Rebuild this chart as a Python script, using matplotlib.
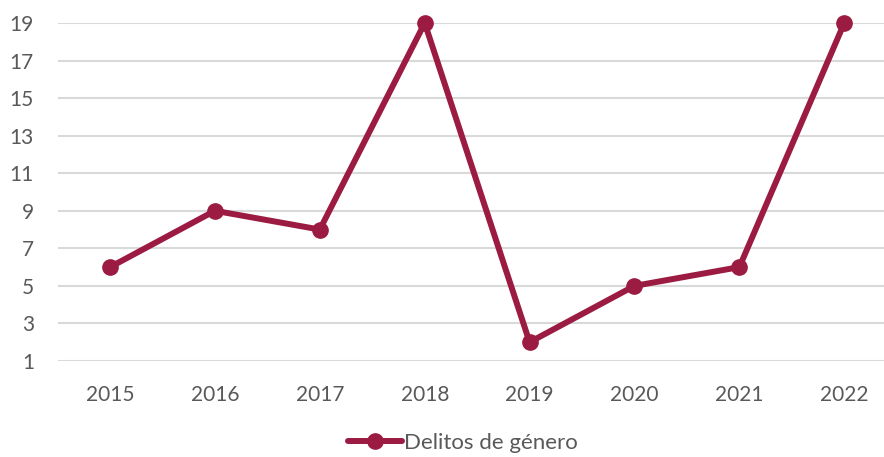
import matplotlib
matplotlib.use('Agg')
from matplotlib import pyplot as plt

years = ['2015', '2016', '2017', '2018', '2019', '2020', '2021', '2022']
delitos = [6, 9, 8, 19, 2, 5, 6, 19]
yticks = [1, 3, 5, 7, 9, 11, 13, 15, 17, 19]

color = '#9B1B42'
txt = '#595959'
plt.rcParams['font.family'] = ['Lato', 'DejaVu Sans']

fig = plt.figure(figsize=(8.84, 4.57), dpi=100)
W, H = 884, 457
left, right = 57.6, 896.7
ax = fig.add_axes([left / W, (H - 361) / H, (right - left) / W, 338 / H])

x = range(len(years))
ax.plot(x, delitos, color=color, lw=4.3, marker='o', ms=11, label='Delitos de género',
        solid_capstyle='round', clip_on=False, zorder=3)

ax.set_xlim(-0.5, len(years) - 0.5)
ax.set_ylim(1, 19)
ax.set_yticks(yticks)
ax.set_xticks(list(x))
ax.set_xticklabels(years)
ax.grid(axis='y', color='#D9D9D9', lw=1.5)
ax.set_axisbelow(True)
for s in ax.spines.values():
    s.set_visible(False)
ax.tick_params(length=0, labelsize=15, colors=txt)
ax.tick_params(axis='x', pad=17)
ax.tick_params(axis='y', pad=17)

leg = fig.legend(loc='center', bbox_to_anchor=(463 / W, (H - 443) / H), frameon=False,
                 fontsize=16, handlelength=2.45, handletextpad=0.1)
for t in leg.get_texts():
    t.set_color(txt)

fig.savefig('out.png', dpi=100)
